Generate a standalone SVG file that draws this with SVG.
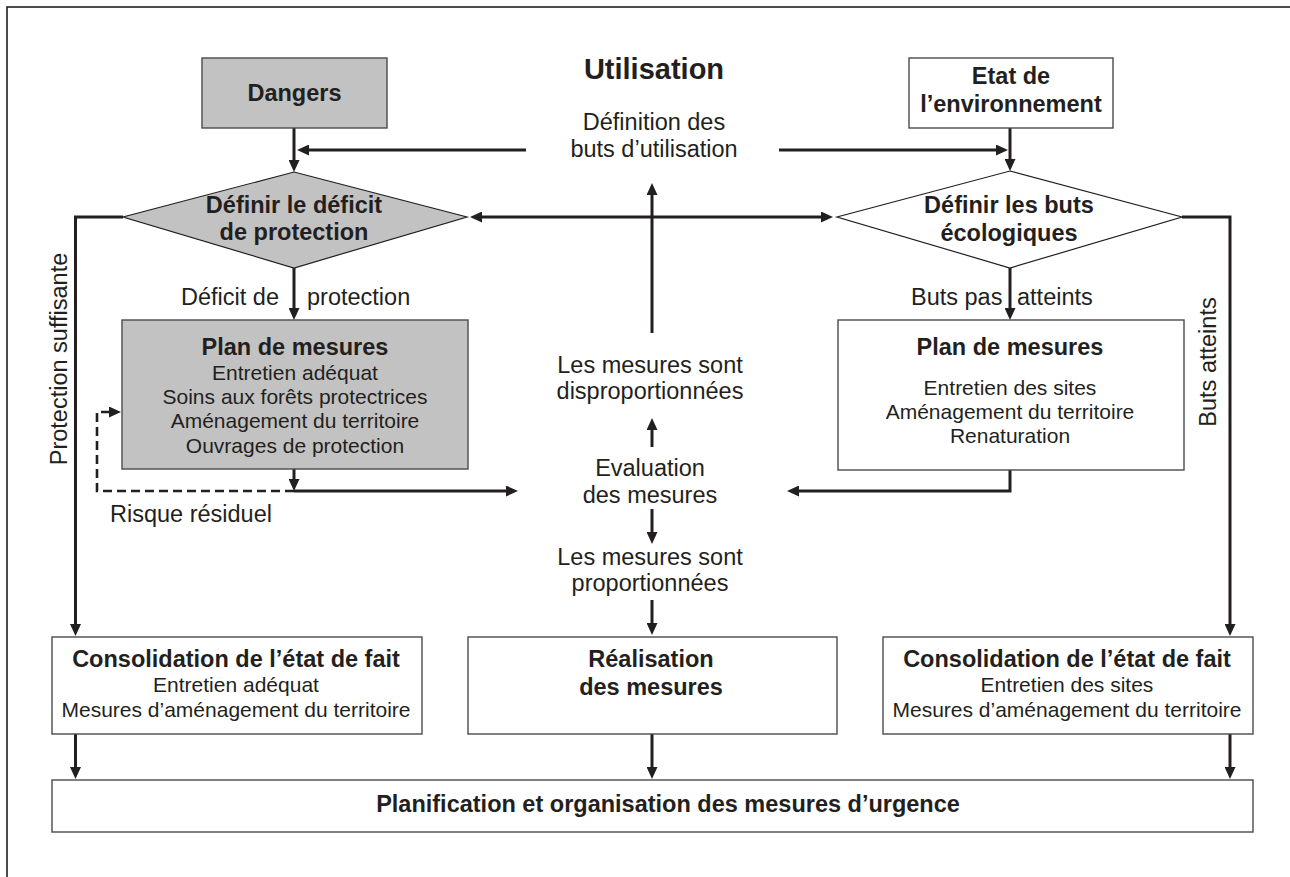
<svg xmlns="http://www.w3.org/2000/svg" width="1290" height="877" viewBox="0 0 1290 877">
<defs>
<marker id="ah" viewBox="0 0 12 11" refX="4" refY="5.5" markerWidth="12" markerHeight="11" markerUnits="userSpaceOnUse" orient="auto-start-reverse">
<path d="M0,0 L12,5.5 L0,11 z" fill="#231f20"/>
</marker>
</defs>
<style>
text{font-family:"Liberation Sans",Arial,sans-serif;fill:#231f20}
.b{font-weight:bold;font-size:23.5px}
.r{font-size:23.5px}
.s{font-size:21px}
.box{fill:#fff;stroke:#4a4a4a;stroke-width:1.4}
.gray{fill:#c2c2c2;stroke:#4a4a4a;stroke-width:1.4}
.dia{stroke:#231f20;stroke-width:1.2}
.c{fill:none;stroke:#231f20;stroke-width:3;marker-end:url(#ah)}
.d{fill:none;stroke:#231f20;stroke-width:2.6;stroke-dasharray:9,5;marker-end:url(#ah)}
</style>
<rect x="7" y="7" width="1300" height="900" fill="#fff" stroke="#231f20" stroke-width="1.6"/>
<g id="connectors">
<path class="c" d="M294,128 V164"/>
<path class="c" d="M1010,128 V163"/>
<path class="c" d="M526,150 H305"/>
<path class="c" d="M779,150 H1000"/>
<path class="c" d="M478,217 H825" style="marker-start:url(#ah)"/>
<path class="c" d="M652,333 V191"/>
<path class="c" d="M123,217 H75.5 V628"/>
<path class="c" d="M1182,217 H1230 V628"/>
<path class="c" d="M294,268 V312"/>
<path class="c" d="M1010,268 V312"/>
<path class="c" d="M294,469 V483"/>
<path class="c" d="M294,491 H510"/>
<path class="d" d="M294,491 H97 V412 H113"/>
<path class="c" d="M1010,470 V491 H795"/>
<path class="c" d="M652,447 V426"/>
<path class="c" d="M652,509 V536"/>
<path class="c" d="M652,600 V627"/>
<path class="c" d="M75.5,734 V771"/>
<path class="c" d="M652,734 V771"/>
<path class="c" d="M1230,734 V771"/>
</g>
<g id="dangers">
<rect class="gray" x="202" y="58" width="185" height="70"/>
<text class="b" x="294.5" y="101" text-anchor="middle">Dangers</text>
</g>
<g id="utilisation">
<text class="b" x="654" y="79" text-anchor="middle" style="font-size:29px">Utilisation</text>
<text class="r" x="654" y="130" text-anchor="middle">Définition des</text>
<text class="r" x="654" y="157" text-anchor="middle">buts d’utilisation</text>
</g>
<g id="etat">
<rect class="box" x="909" y="58" width="204" height="70"/>
<text class="b" x="1011" y="84" text-anchor="middle">Etat de</text>
<text class="b" x="1011" y="112" text-anchor="middle">l’environnement</text>
</g>
<g id="deficit">
<polygon class="dia" points="294,172 467,217 294,268 123,217" fill="#c2c2c2"/>
<text class="b" x="294" y="213" text-anchor="middle">Définir le déficit</text>
<text class="b" x="294" y="240" text-anchor="middle">de protection</text>
</g>
<g id="buts">
<polygon class="dia" points="1010,171 1182,217 1010,268 837,217" fill="#fff"/>
<text class="b" x="1009" y="213" text-anchor="middle">Définir les buts</text>
<text class="b" x="1009" y="241" text-anchor="middle">écologiques</text>
</g>
<g id="labels">
<text class="r" x="181" y="305">Déficit de</text>
<text class="r" x="307" y="305">protection</text>
<text class="r" x="911" y="305">Buts pas</text>
<text class="r" x="1017" y="305">atteints</text>
<text class="r" transform="translate(67,359) rotate(-90)" text-anchor="middle">Protection suffisante</text>
<text class="r" transform="translate(1216,362) rotate(-90)" text-anchor="middle">Buts atteints</text>
<text class="r" x="110" y="522">Risque résiduel</text>
</g>
<g id="plan-left">
<rect class="gray" x="122" y="320" width="346" height="149"/>
<text class="b" x="295" y="355" text-anchor="middle">Plan de mesures</text>
<text class="s" x="295" y="380" text-anchor="middle">Entretien adéquat</text>
<text class="s" x="295" y="404" text-anchor="middle">Soins aux forêts protectrices</text>
<text class="s" x="295" y="428" text-anchor="middle">Aménagement du territoire</text>
<text class="s" x="295" y="453" text-anchor="middle">Ouvrages de protection</text>
</g>
<g id="plan-right">
<rect class="box" x="838" y="320" width="346" height="150"/>
<text class="b" x="1010" y="355" text-anchor="middle">Plan de mesures</text>
<text class="s" x="1010" y="395" text-anchor="middle">Entretien des sites</text>
<text class="s" x="1010" y="419" text-anchor="middle">Aménagement du territoire</text>
<text class="s" x="1010" y="443" text-anchor="middle">Renaturation</text>
</g>
<g id="evaluation">
<text class="r" x="650" y="373" text-anchor="middle">Les mesures sont</text>
<text class="r" x="650" y="399" text-anchor="middle">disproportionnées</text>
<text class="r" x="650" y="476" text-anchor="middle">Evaluation</text>
<text class="r" x="650" y="503" text-anchor="middle">des mesures</text>
<text class="r" x="650" y="565" text-anchor="middle">Les mesures sont</text>
<text class="r" x="650" y="591" text-anchor="middle">proportionnées</text>
</g>
<g id="consolidation-left">
<rect class="box" x="52" y="637" width="370" height="97"/>
<text class="b" x="236" y="667" text-anchor="middle">Consolidation de l’état de fait</text>
<text class="s" x="236" y="692" text-anchor="middle">Entretien adéquat</text>
<text class="s" x="236" y="717" text-anchor="middle">Mesures d’aménagement du territoire</text>
</g>
<g id="realisation">
<rect class="box" x="468" y="637" width="369" height="97"/>
<text class="b" x="651" y="667" text-anchor="middle">Réalisation</text>
<text class="b" x="651" y="695" text-anchor="middle">des mesures</text>
</g>
<g id="consolidation-right">
<rect class="box" x="883" y="637" width="370" height="97"/>
<text class="b" x="1067" y="667" text-anchor="middle">Consolidation de l’état de fait</text>
<text class="s" x="1067" y="692" text-anchor="middle">Entretien des sites</text>
<text class="s" x="1067" y="717" text-anchor="middle">Mesures d’aménagement du territoire</text>
</g>
<g id="urgence">
<rect class="box" x="52" y="780" width="1201" height="52"/>
<text class="b" x="668" y="812" text-anchor="middle">Planification et organisation des mesures d’urgence</text>
</g>
</svg>
